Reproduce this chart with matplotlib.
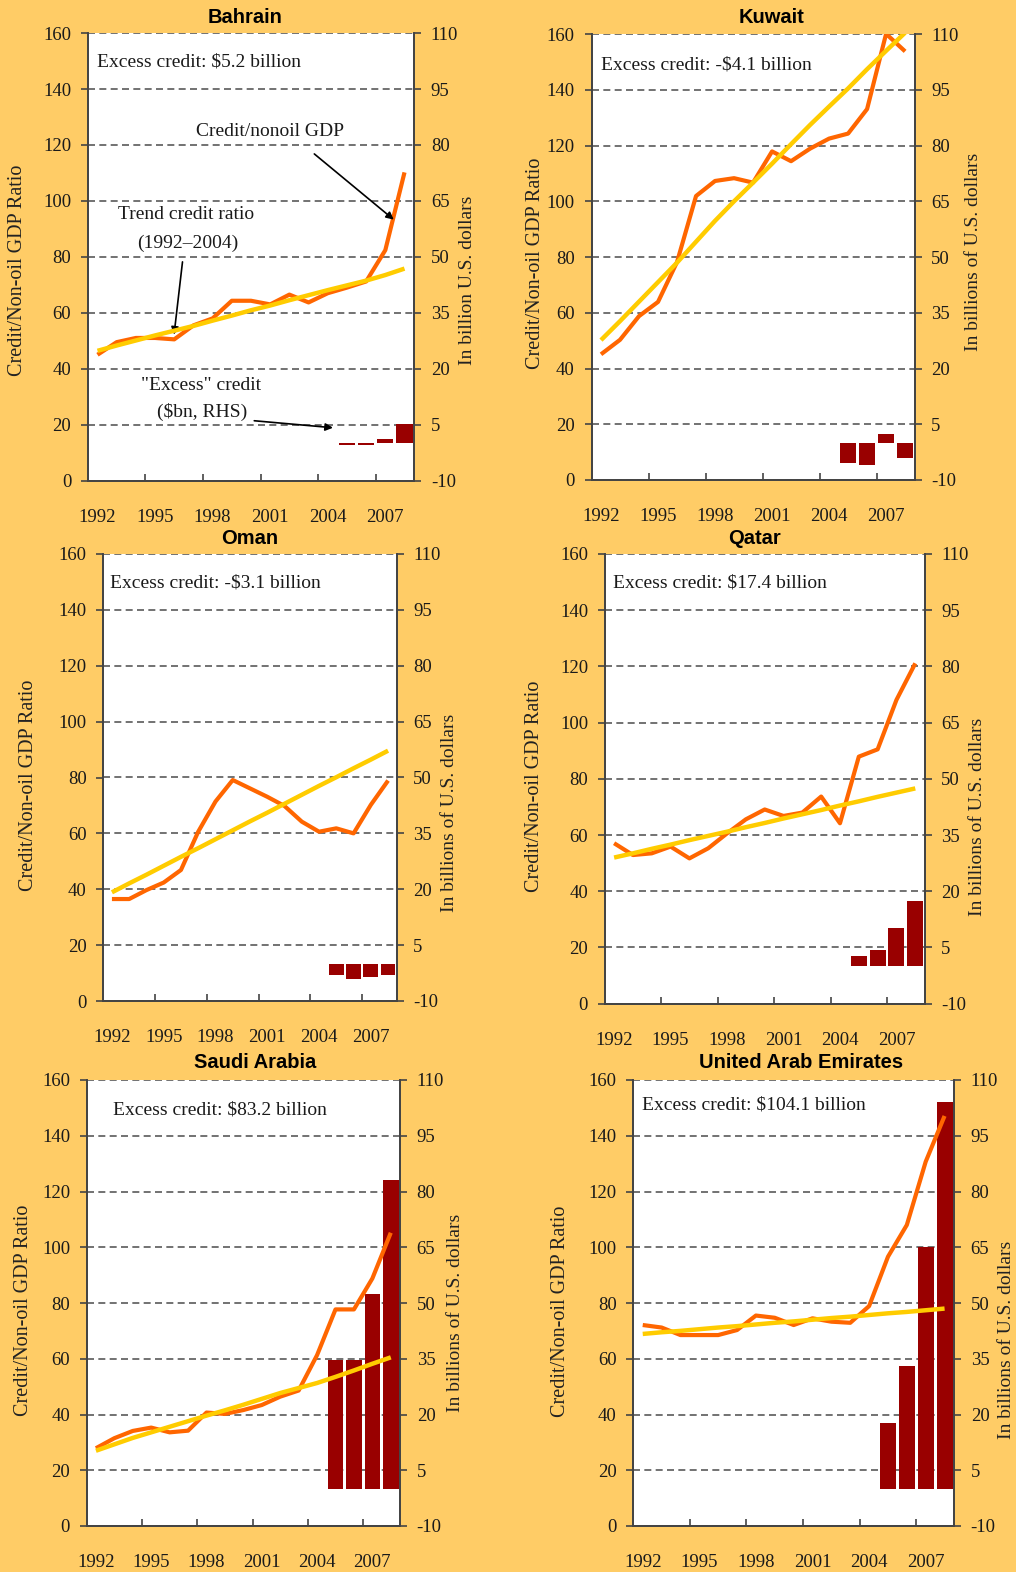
import numpy as np
import matplotlib.pyplot as plt

plt.rcParams['axes.unicode_minus'] = False

# figure size in pixels
W, H = 1016, 1572

years = list(range(1992, 2009))
bar_years = [2005, 2006, 2007, 2008]
xtick_years = [1992, 1995, 1998, 2001, 2004, 2007]
left_ticks = [0, 20, 40, 60, 80, 100, 120, 140, 160]
right_ticks = [-10, 5, 20, 35, 50, 65, 80, 95, 110]

# credit / non-oil GDP ratio, trend ratio, excess credit ($bn)
bahrain_credit = [45.0, 49.5, 51.0, 51.0, 50.5, 55.5, 58.0, 64.3, 64.3, 63.0, 66.5, 63.7, 67.0, 69.0, 71.2, 82.4, 110.2]
bahrain_trend = [46.4, 48.3, 50.1, 51.9, 53.6, 55.3, 57.2, 59.0, 60.9, 62.6, 64.5, 66.3, 68.1, 69.8, 71.5, 73.5, 75.8]
bahrain_excess = [-0.4, -0.4, 1.1, 5.2]

kuwait_credit = [45.1, 50.3, 58.8, 63.9, 78.2, 101.9, 107.3, 108.3, 106.7, 117.9, 114.4, 118.9, 122.5, 124.3, 133.1, 160.1, 153.8]
kuwait_trend = [50.2, 57.0, 64.0, 71.0, 78.0, 85.5, 93.0, 100.0, 106.7, 113.5, 120.5, 127.4, 134.0, 140.5, 147.4, 154.0, 160.5]
kuwait_excess = [-5.3, -5.9, 2.4, -4.1]

oman_credit = [36.5, 36.5, 39.7, 42.4, 46.9, 60.6, 71.4, 79.1, 76.1, 73.1, 69.8, 64.2, 60.6, 61.8, 60.0, 70.2, 78.9]
oman_trend = [38.9, 42.1, 45.2, 48.4, 51.6, 54.7, 57.9, 61.1, 64.3, 67.4, 70.6, 73.8, 77.0, 80.1, 83.3, 86.4, 89.6]
oman_excess = [-2.9, -4.2, -3.6, -3.1]

qatar_credit = [57.1, 52.9, 53.5, 55.9, 51.7, 55.3, 60.6, 65.6, 69.1, 66.8, 68.0, 73.7, 64.2, 87.9, 90.5, 108.1, 121.1]
qatar_trend = [52.0, 53.5, 55.1, 56.6, 58.2, 59.7, 61.2, 62.8, 64.3, 65.9, 67.4, 68.9, 70.5, 72.0, 73.6, 75.1, 76.6]
qatar_excess = [2.7, 4.3, 10.1, 17.4]

saudi_credit = [27.9, 31.5, 34.1, 35.3, 33.6, 34.2, 40.7, 40.2, 41.6, 43.4, 46.4, 48.6, 61.3, 77.7, 77.7, 88.8, 105.2]
saudi_trend = [27.0, 29.3, 31.6, 33.6, 35.6, 37.6, 39.6, 41.5, 43.5, 45.6, 47.7, 49.5, 51.3, 53.5, 55.8, 58.2, 60.5]
saudi_excess = [34.7, 34.7, 52.3, 83.2]

uae_credit = [72.1, 71.2, 68.5, 68.5, 68.5, 70.3, 75.5, 74.7, 72.1, 74.5, 73.3, 72.9, 78.9, 96.6, 108.0, 130.7, 147.1]
uae_trend = [68.9, 69.5, 70.0, 70.6, 71.2, 71.7, 72.3, 72.9, 73.4, 74.0, 74.6, 75.1, 75.7, 76.3, 76.8, 77.4, 78.0]
uae_excess = [17.6, 33.1, 65.0, 104.1]

BG = '#FFCC66'
ORANGE = '#FF6600'
YELLOW = '#FFCC00'
BAR = '#990000'
SPINE = '#444444'
SERIF = 'Liberation Serif'
SANS = 'Liberation Sans'

fig = plt.figure(figsize=(W / 100, H / 100), dpi=100, facecolor=BG)


def fx(px):
    return px / W


def fy(py):
    return 1 - py / H


def panel(box, title, title_xy, credit, trend, excess, note, note_xy,
          rlabel, llab_xy, rlab_xy):
    l, r, t, b = box
    ax = fig.add_axes([fx(l), fy(b), fx(r - l), (b - t) / H])
    ax2 = ax.twinx()
    ax.set_zorder(2)
    ax2.set_zorder(1)
    ax.patch.set_visible(False)
    ax2.patch.set_visible(True)
    ax2.patch.set_facecolor('white')

    x = np.arange(len(years))
    xb = [years.index(y) for y in bar_years]

    ax2.bar(xb, excess, width=0.85, color=BAR, zorder=2)
    ax2.set_ylim(-10, 110)
    ax2.set_yticks(right_ticks)
    ax2.yaxis.grid(True, color='#5a5a5a', lw=1.2, ls=(0, (4.2, 2.6)))
    ax2.set_axisbelow(True)

    ax.plot(x, credit, color=ORANGE, lw=3.0, solid_capstyle='butt', zorder=3)
    ax.plot(x, trend, color=YELLOW, lw=3.2, solid_capstyle='butt', zorder=4)
    ax.set_ylim(0, 160)
    ax.set_yticks(left_ticks)
    ax.set_xlim(-0.5, len(years) - 0.5)

    # tick marks at category boundaries, labels at category centres
    ax.set_xticks([2.5, 5.5, 8.5, 11.5, 14.5])
    ax.set_xticklabels([])
    ax.set_xticks([years.index(y) for y in xtick_years],
                  [str(y) for y in xtick_years], minor=True)
    ax.tick_params(axis='x', which='major', direction='in', length=5,
                   width=1.2, color=SPINE)
    ax.tick_params(axis='x', which='minor', length=0, pad=20.5,
                   labelsize=13.5, labelcolor='#1a1a1a')
    for a in (ax, ax2):
        a.tick_params(axis='y', direction='out', length=5, width=1.2,
                      color=SPINE, labelsize=13.5, labelcolor='#1a1a1a', pad=7)
        for lab in a.get_yticklabels() + a.get_xticklabels(minor=True):
            lab.set_family(SERIF)
        for s in a.spines.values():
            s.set_color(SPINE)
            s.set_linewidth(1.3)
        a.spines['top'].set_visible(False)

    fig.text(fx(title_xy[0]), fy(title_xy[1]), title, family=SANS,
             weight='bold', fontsize=14.5, ha='center', va='center')
    fig.text(fx(note_xy[0]), fy(note_xy[1]), note, family=SERIF,
             fontsize=14, ha='left', va='center', color='#1a1a1a')
    fig.text(fx(llab_xy[0]), fy(llab_xy[1]), 'Credit/Non-oil GDP Ratio',
             family=SERIF, fontsize=14.5, rotation=90, ha='center',
             va='center', color='#222222')
    fig.text(fx(rlab_xy[0]), fy(rlab_xy[1]), rlabel, family=SERIF,
             fontsize=14, rotation=90, ha='center', va='center',
             color='#222222')
    return ax


rl = 'In billions of U.S. dollars'

ax_b = panel((87.9, 414.1, 33.1, 480.6), 'Bahrain', (245, 17.6),
             bahrain_credit, bahrain_trend, bahrain_excess,
             'Excess credit: $5.2 billion', (97, 62.5),
             'In billion U.S. dollars', (17.6, 270), (468, 280))
panel((591.5, 914.6, 34.1, 480.0), 'Kuwait', (771.6, 17.6),
      kuwait_credit, kuwait_trend, kuwait_excess,
      'Excess credit: -$4.1 billion', (601, 65), rl, (535, 263.6), (973.8, 252))
panel((103.3, 396.7, 554.0, 1001.0), 'Oman', (250, 538.3),
      oman_credit, oman_trend, oman_excess,
      'Excess credit: -$3.1 billion', (110, 583.3), rl, (28.3, 785), (450, 813))
panel((604.7, 924.7, 554.0, 1003.7), 'Qatar', (754.7, 538.7),
      qatar_credit, qatar_trend, qatar_excess,
      'Excess credit: $17.4 billion', (613, 583), rl, (534.7, 786.7), (978, 816.7))
panel((86.7, 400.0, 1080.0, 1526.0), 'Saudi Arabia', (255, 1062.3),
      saudi_credit, saudi_trend, saudi_excess,
      'Excess credit: $83.2 billion', (112.7, 1110), rl, (24, 1310), (456, 1313))
panel((633.3, 954.0, 1080.0, 1526.0), 'United Arab Emirates', (801.3, 1062.3),
      uae_credit, uae_trend, uae_excess,
      'Excess credit: $104.1 billion', (642, 1105), rl, (560.7, 1311.7), (1006.3, 1340))

# annotations in the Bahrain panel (data coordinates of the left axis)
arrow = dict(arrowstyle='-|>', color='black', lw=1.2, mutation_scale=11,
             shrinkA=0, shrinkB=0)
txt = dict(family=SERIF, fontsize=14, ha='center', va='center', color='#1a1a1a')
ax_b.text(9.0, 124.7, 'Credit/nonoil GDP', **txt)
ax_b.annotate('', xy=(15.44, 93.3), xytext=(11.3, 116.8), arrowprops=arrow)
ax_b.text(4.61, 95.1, 'Trend credit ratio', **txt)
ax_b.text(4.70, 84.8, '(1992\u20132004)', **txt)
ax_b.annotate('', xy=(3.99, 52.2), xytext=(4.43, 78.2), arrowprops=arrow)
ax_b.text(5.39, 34.1, '"Excess" credit', **txt)
ax_b.text(5.44, 24.4, '($bn, RHS)', **txt)
ax_b.annotate('', xy=(12.27, 18.9), xytext=(8.17, 21.4), arrowprops=arrow)

plt.savefig('out.png', dpi=100, facecolor=BG)
